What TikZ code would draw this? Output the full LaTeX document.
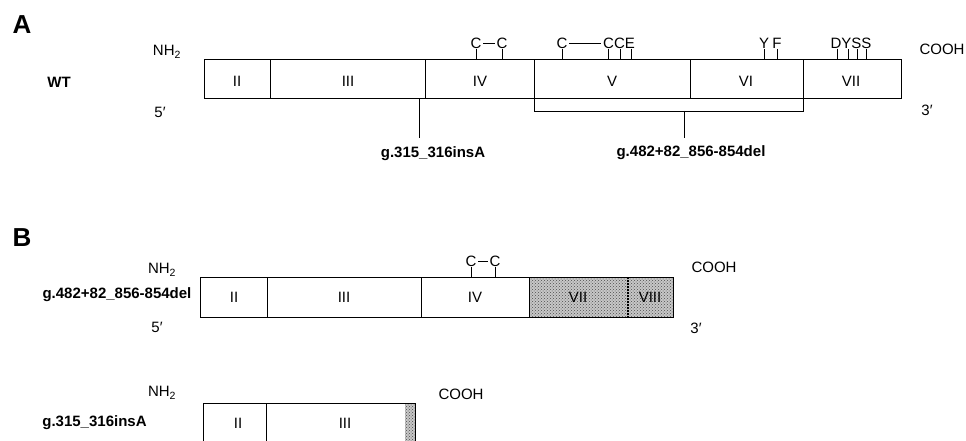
\documentclass[tikz,border=0pt]{standalone}
\usepackage{fontspec}
\setmainfont{Liberation Sans}
\usetikzlibrary{patterns,calc}
\tikzset{
  txt/.style={font=\fontsize{15}{18}\selectfont, inner sep=0pt},
  bld/.style={font=\fontsize{15}{18}\selectfont\bfseries, inner sep=0pt},
  panel/.style={font=\fontsize{26}{30}\selectfont\bfseries, inner sep=0pt},
  boxline/.style={draw, line width=1pt},
  ticky/.style={line width=0.9pt},
  dotfill/.style={pattern=crosshatch dots, pattern color=black!70},
}
\begin{document}
\begin{tikzpicture}[x=1pt,y=-1pt]
\clip (0,0) rectangle (966,441);
\fill[white] (0,0) rectangle (966,441);

% ---------------- Panel A ----------------
\node[panel] (pA) at (22,25) {A};
\node[txt] (nh2a) at (167,52) {NH\textsubscript{2}};
\node[bld] (wt) at (59,82) {WT};
\node[txt] (p5a) at (160,112) {5′};
\node[txt] (cooha) at (942,49) {COOH};
\node[txt] (p3a) at (927,110) {3′};

\draw[boxline] (204,59.5) rectangle (901,99);
\foreach \x in {270,425,534,690,803} \draw[boxline] (\x,59.5) -- (\x,99);
\node[txt] (a2) at (237,81) {II};
\node[txt] (a3) at (348,81) {III};
\node[txt] (a4) at (480,81) {IV};
\node[txt] (a5) at (612,81) {V};
\node[txt] (a6) at (746,81) {VI};
\node[txt] (a7) at (851,81) {VII};

% deletion bracket
\coordinate (brL) at (534,99);
\coordinate (brR) at (803,99);
\draw[ticky] (brL) -- (534,111) -- (803,111) -- (brR);
\coordinate (delTop) at (684,111);
\node[bld] (dellab) at (691,153) {g.482+82\_856-854del};
\draw[ticky] (delTop) -- (684,138);
% insertion
\coordinate (insTop) at (419,99);
\node[bld] (inslab) at (433,154) {g.315\_316insA};
\draw[ticky] (insTop) -- (419,138);

% residues panel A
\node[txt] (c1) at (476,43) {C};
\node[txt] (c2) at (502,43) {C};
\draw[ticky] ($(c1.east)+(1.5,0.5)$) -- ($(c2.west)+(-1.5,0.5)$);
\node[txt] (c3) at (562,43) {C};
\node[txt] (cce) at (619,43) {CCE};
\draw[ticky] ($(c3.east)+(1.5,0.5)$) -- ($(cce.west)+(-1.5,0.5)$);
\node[txt] (yf1) at (764,43) {Y};
\node[txt] (yf2) at (777,43) {F};
\node[txt] (dyss) at (851,43) {DYSS};
\foreach \x in {476,502,562,608,620,631,764,777,837,848,857,866}
  \draw[ticky] (\x,49) -- (\x,59.5);

% ---------------- Panel B ----------------
\node[panel] (pB) at (22,238) {B};
\node[txt] (nh2b) at (162,270) {NH\textsubscript{2}};
\node[bld] (dlb) at (117,295) {g.482+82\_856-854del};
\node[txt] (p5b) at (157,327) {5′};
\node[txt] (coohb) at (714,267) {COOH};
\node[txt] (p3b) at (696,328) {3′};

\fill[black!22] (529,277) rectangle (673,317);
\fill[dotfill] (529,277) rectangle (673,317);
\draw[boxline] (200,277) rectangle (673,317);
\foreach \x in {267,421,529} \draw[boxline] (\x,277) -- (\x,317);
\draw[line width=1.2pt, dash pattern=on 1.5pt off 1.5pt] (628,277) -- (628,317);
\node[txt] (b2) at (234,297) {II};
\node[txt] (b3) at (344,297) {III};
\node[txt] (b4) at (475,297) {IV};
\node[txt] (b7) at (578,297) {VII};
\node[txt] (b8) at (650,297) {VIII};

\node[txt] (bc1) at (471,261) {C};
\node[txt] (bc2) at (495,261) {C};
\draw[ticky] ($(bc1.east)+(1.5,0.5)$) -- ($(bc2.west)+(-1.5,0.5)$);
\foreach \x in {471,495} \draw[ticky] (\x,267) -- (\x,277);

% bottom row
\node[txt] (nh2c) at (162,393) {NH\textsubscript{2}};
\node[bld] (ilb) at (94.5,423) {g.315\_316insA};
\node[txt] (coohc) at (461,394) {COOH};
\fill[black!22] (405,403) rectangle (415,460);
\fill[dotfill] (405,403) rectangle (415,460);
\draw[boxline] (203,403) rectangle (415,460);
\draw[boxline] (266,403) -- (266,460);
\node[txt] (c2b) at (238,423) {II};
\node[txt] (c3b) at (345,423) {III};
\end{tikzpicture}
\end{document}
